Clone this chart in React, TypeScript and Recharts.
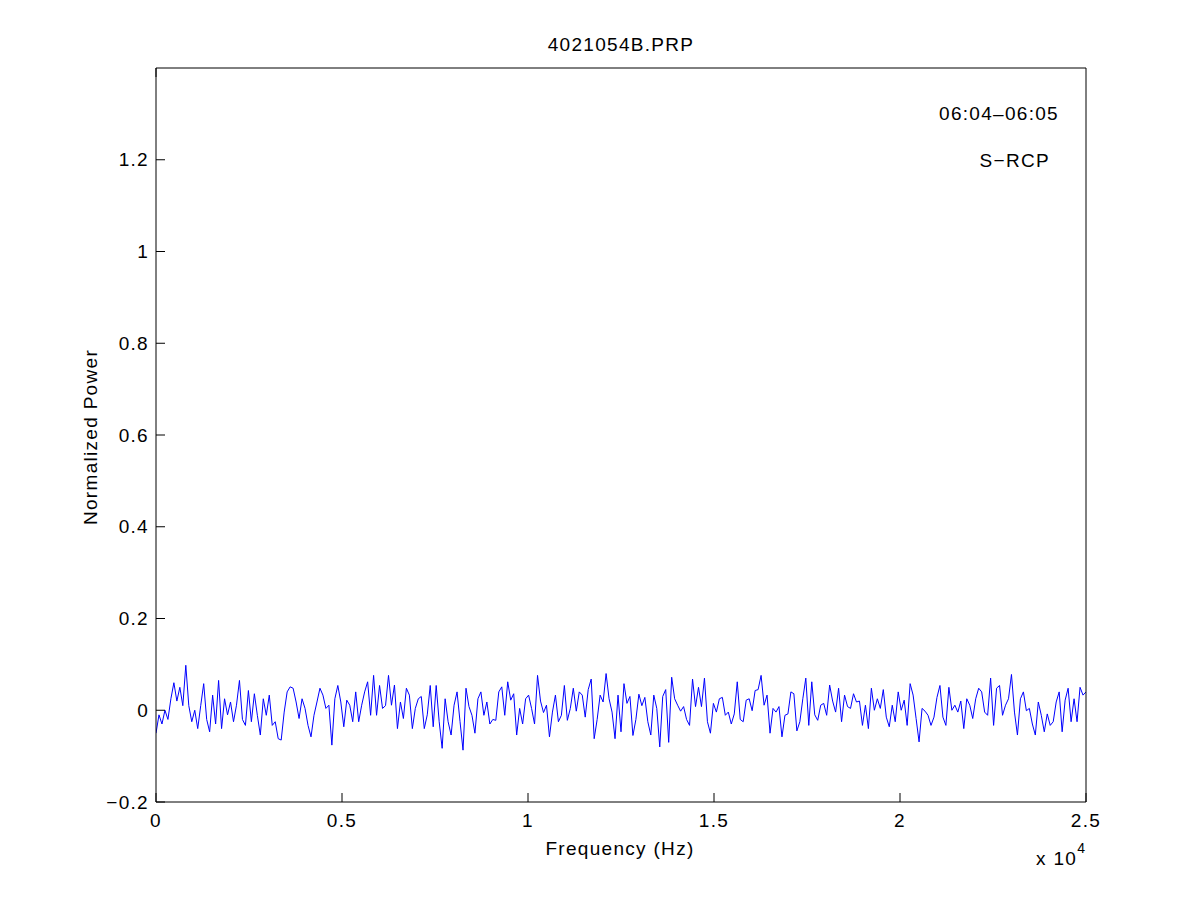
import { LineChart, Line, XAxis, YAxis } from 'recharts';

// Normalized power readings left to right (evenly spaced samples)
const POWER = [
  -0.05, -0.01, -0.03, 0.0, -0.02, 0.025, 0.06, 0.02, 0.05, 0.01,
  0.098, 0.01, -0.025, 0.0, -0.04, 0.01, 0.058, -0.02, -0.047, 0.033,
  -0.03, 0.065, -0.04, 0.025, -0.01, 0.018, -0.025, 0.011, 0.065, -0.02,
  -0.033, 0.043, -0.025, 0.036, -0.011, -0.054, 0.025, -0.011, 0.033, -0.033,
  -0.025, -0.062, -0.065, -0.004, 0.04, 0.051, 0.048, 0.018, -0.018, 0.025,
  0.004, -0.033, -0.058, -0.011, 0.018, 0.048, 0.033, 0.004, 0.011, -0.076,
  0.025, 0.054, 0.018, -0.036, 0.022, 0.011, -0.025, 0.04, -0.025, 0.011,
  0.04, 0.062, -0.011, 0.076, -0.011, 0.054, 0.004, 0.01, 0.076, 0.011,
  0.055, -0.04, 0.018, -0.018, 0.048, 0.033, -0.04, 0.004, 0.025, 0.03,
  -0.04, -0.01, 0.054, -0.036, 0.054, -0.025, -0.083, 0.025, -0.025, -0.054,
  0.011, 0.04, -0.025, -0.087, 0.048, 0.008, -0.011, -0.05, 0.025, 0.04,
  -0.011, 0.018, -0.03, -0.02, -0.022, 0.04, 0.051, -0.011, 0.062, 0.022,
  0.036, -0.054, 0.004, -0.03, 0.025, 0.033, 0.004, -0.03, 0.076, 0.02,
  -0.005, 0.011, -0.058, -0.004, 0.033, -0.025, -0.011, 0.054, -0.022, 0.004,
  0.048, -0.002, 0.04, 0.033, -0.015, 0.045, 0.068, -0.062, -0.02, 0.033,
  0.018, 0.08, 0.025, -0.004, -0.062, 0.033, -0.047, 0.058, 0.015, 0.03,
  -0.055, -0.02, 0.035, 0.01, 0.028, -0.025, -0.054, 0.033, 0.004, -0.08,
  0.03, 0.045, -0.07, 0.072, 0.025, 0.011, -0.002, 0.008, -0.02, -0.033,
  0.068, 0.008, 0.05, 0.008, 0.07, -0.025, -0.05, 0.015, -0.004, 0.025,
  0.028, -0.011, -0.004, -0.03, -0.008, 0.062, -0.02, -0.025, 0.022, 0.025,
  -0.001, 0.043, 0.045, 0.076, 0.011, 0.033, -0.05, 0.004, -0.004, 0.008,
  -0.058, -0.011, -0.008, 0.04, 0.036, -0.045, -0.025, 0.025, 0.07, -0.033,
  0.062, -0.01, -0.022, 0.011, 0.015, -0.011, 0.055, 0.02, -0.004, 0.048,
  -0.025, 0.033, 0.008, 0.004, 0.036, 0.018, 0.02, -0.033, 0.011, -0.04,
  0.048, 0.0, 0.025, 0.004, 0.045, -0.015, -0.036, 0.011, -0.025, 0.04,
  0.0, 0.022, -0.033, 0.058, 0.033, -0.018, -0.069, 0.004, -0.002, -0.011,
  -0.033, -0.015, 0.028, 0.054, -0.015, -0.033, 0.05, 0.0, 0.011, -0.004,
  0.02, -0.04, 0.025, 0.011, -0.018, 0.025, 0.048, 0.04, -0.004, -0.011,
  0.07, -0.033, 0.048, 0.054, -0.011, 0.011, 0.025, 0.078, -0.004, -0.054,
  0.025, 0.04, -0.001, 0.004, -0.03, -0.054, 0.018, -0.011, -0.047, -0.008,
  -0.033, -0.025, 0.018, 0.04, -0.047, 0.022, 0.048, -0.025, 0.025, -0.025,
  0.05, 0.033, 0.04,
];

const FREQ_MAX = 25000;
const X_TICKS = [0, 5000, 10000, 15000, 20000, 25000];
const Y_TICKS = [-0.2, 0, 0.2, 0.4, 0.6, 0.8, 1, 1.2];

const TITLE = '4021054B.PRP';
const TIME_RANGE = '06:04\u201306:05';
const POLARIZATION = 'S\u2212RCP';

const FONT = '"Liberation Sans", Arial, Helvetica, sans-serif';
const SPACING = 1.3;

const data = POWER.map((p, i) => ({
  freq: (i * FREQ_MAX) / (POWER.length - 1),
  power: p,
}));

const fmtY = (v: number) => (v < 0 ? `\u2212${Math.abs(v)}` : `${v}`);
const fmtX = (v: number) => `${v / 10000}`;

const tickStyle = {
  fill: '#000',
  fontSize: 19,
  fontFamily: FONT,
  style: { letterSpacing: SPACING },
};
const axisLine = { stroke: '#000', strokeWidth: 1 };

const text: React.CSSProperties = {
  position: 'absolute',
  fontFamily: FONT,
  fontSize: 19,
  letterSpacing: SPACING,
  color: '#000',
  lineHeight: 1,
  whiteSpace: 'nowrap',
};

export default function App() {
  return (
    <div style={{ position: 'absolute', left: 0, top: 0, width: 1201, height: 901, background: '#fff' }}>
      <LineChart
        width={1201}
        height={901}
        data={data}
        margin={{ top: 58, right: 105, bottom: 59, left: 96 }}
      >
        <XAxis
          dataKey="freq"
          type="number"
          domain={[0, FREQ_MAX]}
          ticks={X_TICKS}
          tickFormatter={fmtX}
          tickSize={-9}
          tickMargin={21}
          height={40}
          axisLine={axisLine}
          tickLine={axisLine}
          tick={tickStyle}
          allowDataOverflow
        />
        <XAxis
          xAxisId="top"
          orientation="top"
          type="number"
          domain={[0, FREQ_MAX]}
          ticks={X_TICKS}
          tickFormatter={() => ''}
          tickSize={-9}
          height={10}
          axisLine={axisLine}
          tickLine={axisLine}
        />
        <YAxis
          type="number"
          domain={[-0.2, 1.4]}
          ticks={Y_TICKS}
          tickFormatter={fmtY}
          tickSize={-9}
          tickMargin={16}
          width={60}
          axisLine={axisLine}
          tickLine={axisLine}
          tick={tickStyle}
          allowDataOverflow
        />
        <YAxis
          yAxisId="right"
          orientation="right"
          type="number"
          domain={[-0.2, 1.4]}
          ticks={Y_TICKS}
          tickFormatter={() => ''}
          tickSize={-9}
          width={10}
          axisLine={axisLine}
          tickLine={axisLine}
        />
        <Line
          type="linear"
          dataKey="power"
          stroke="#0000ff"
          strokeWidth={1}
          dot={false}
          isAnimationActive={false}
        />
      </LineChart>

      <div style={{ ...text, left: 621, top: 44, transform: 'translate(-50%, -50%)' }}>{TITLE}</div>
      <div style={{ ...text, right: 1201 - 1059, top: 113, transform: 'translateY(-50%)' }}>{TIME_RANGE}</div>
      <div style={{ ...text, right: 1201 - 1050, top: 160, transform: 'translateY(-50%)' }}>{POLARIZATION}</div>
      <div style={{ ...text, left: 620, top: 848, transform: 'translate(-50%, -50%)' }}>Frequency (Hz)</div>
      <div style={{ ...text, left: 1036, top: 849 }}>
        x 10<sup style={{ fontSize: 14, verticalAlign: 'top', position: 'relative', top: -8 }}>4</sup>
      </div>
      <div
        style={{
          ...text,
          left: 90,
          top: 437,
          transform: 'translate(-50%, -50%) rotate(-90deg)',
        }}
      >
        Normalized Power
      </div>
    </div>
  );
}
